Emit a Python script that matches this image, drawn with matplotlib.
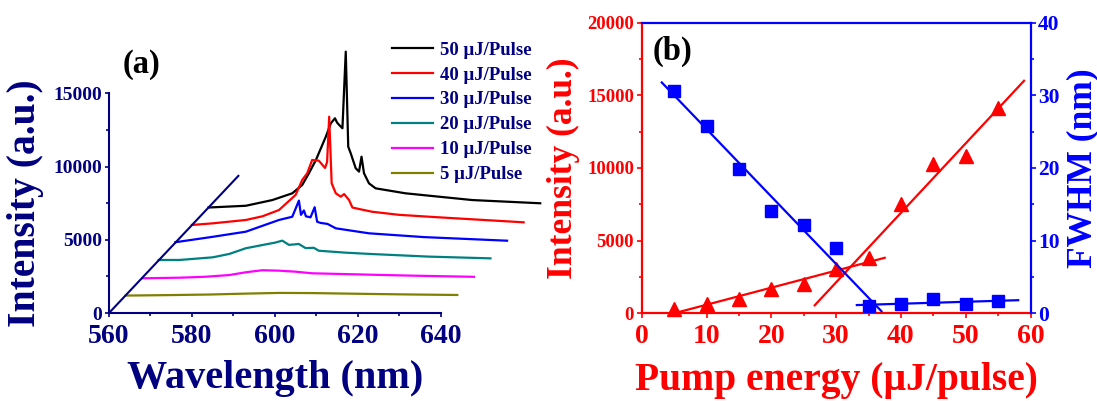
import matplotlib.pyplot as plt
from matplotlib.ticker import MultipleLocator, FixedLocator
import numpy as np

plt.rcParams['font.family'] = ['Liberation Serif', 'DejaVu Serif']
plt.rcParams['font.weight'] = 'bold'
plt.rcParams['axes.labelweight'] = 'bold'

NAVY = '#000080'
W, H = 1097, 401

# ---- (a) emission spectra (raw, before the waterfall offset) ----
wl_50 = [560, 569, 575.4, 580.2, 582.6, 584.2, 585.9, 588.3, 589.5, 590.5, 591.0, 591.5, 592.3,
         593.1, 593.7, 594.3, 595.5, 596.3, 596.9, 597.5, 598.7, 600.3, 607.5, 623.6, 640]
int_50 = [0, 120, 510, 970, 1540, 2330, 3245, 4840, 5750, 6090, 5800, 5640, 5410,
          10640, 4150, 3700, 2680, 2450, 3470, 2340, 1650, 1310, 970, 510, 290]

wl_40 = [560, 565, 573, 577, 581, 585, 586.6, 587.8, 589, 590.6, 591.5, 592.1, 592.6,
         593.1, 593.7, 594.7, 595.9, 596.7, 597.9, 598.7, 600.3, 603.5, 610, 619.6, 640]
int_40 = [10, 120, 350, 600, 1030, 2060, 3080, 3535, 4445, 4400, 4100, 3900, 4300,
          7400, 2855, 2170, 1940, 2120, 1710, 1200, 1100, 910, 700, 530, 190]

wl_30 = [560, 569, 577, 585, 588.2, 589.8, 590.3, 591.0, 591.5, 592.6, 593.6, 594.2,
         595.0, 596.7, 598.7, 606.7, 620, 640]
int_30 = [30, 400, 750, 1550, 1770, 2870, 1900, 2200, 1800, 1730, 2420, 1430,
          1350, 1280, 980, 640, 380, 135]

wl_20 = [560, 565, 573, 577, 581, 585, 588, 589.8, 591.4, 593.8, 595.4, 597.4, 598.6,
         605, 611, 625, 640]
int_20 = [20, 20, 200, 430, 820, 1040, 1200, 1340, 1050, 1110, 830, 850, 650,
          520, 430, 250, 130]

wl_10 = [560, 569, 575, 581, 585, 589, 593, 597, 601, 610, 615, 625, 640]
int_10 = [-30, 10, 70, 190, 380, 520, 490, 420, 310, 250, 215, 150, 70]

wl_5 = [560, 570, 580, 590, 597, 605, 619, 630, 640]
int_5 = [-10, 20, 60, 130, 170, 160, 100, 60, 30]

spec_labels = ['50 μJ/Pulse', '40 μJ/Pulse', '30 μJ/Pulse',
               '20 μJ/Pulse', '10 μJ/Pulse', '5 μJ/Pulse']
spec_colors = ['#000000', '#ff0000', '#0000ff', '#008080', '#ff00ff', '#808000']
spec_wl = [wl_50, wl_40, wl_30, wl_20, wl_10, wl_5]
spec_int = [int_50, int_40, int_30, int_20, int_10, int_5]
spec_level = [6, 5, 4, 3, 2, 1]   # position in the waterfall

# ---- (b) pump dependence ----
energy = [5, 10, 15, 20, 25, 30, 35, 40, 45, 50, 55]
peak_int = [275, 620, 960, 1650, 2000, 3030, 3800, 7520, 10250, 10820, 14100]
fwhm = [30.6, 25.8, 19.8, 14.1, 12.1, 9.0, 1.05, 1.3, 1.9, 1.25, 1.75]


def px_rect(l, t, r, b):
    return [l / W, 1 - b / H, (r - l) / W, (b - t) / H]


fig = plt.figure(figsize=(W / 100, H / 100), dpi=100)

# ================= panel (a) =================
axa = fig.add_axes(px_rect(109, 49.3, 556.8, 313))
axa.set_facecolor('none')
step_x, step_y = 4, 1200

for lab, col, wl, val, k in zip(spec_labels, spec_colors, spec_wl, spec_int, spec_level):
    axa.plot(np.array(wl) + step_x * k, np.array(val) + step_y * k,
             color=col, lw=1.6, label=lab, clip_on=False)

# oblique offset axis
axa.plot([560, 560 + step_x * 7.8], [0, step_y * 7.8], color=NAVY, lw=1.5, clip_on=False)

axa.set_xlim(560, 668)
axa.set_ylim(0, 18000)
axa.spines['top'].set_visible(False)
axa.spines['right'].set_visible(False)
for s in ['left', 'bottom']:
    axa.spines[s].set_color(NAVY)
    axa.spines[s].set_linewidth(1.5)
axa.spines['bottom'].set_bounds(560, 640)
axa.spines['left'].set_bounds(0, 15000)
axa.set_xticks([560, 580, 600, 620, 640])
axa.xaxis.set_minor_locator(FixedLocator([570, 590, 610, 630]))
axa.set_yticks([0, 5000, 10000, 15000])
axa.yaxis.set_minor_locator(FixedLocator([2500, 7500, 12500]))
axa.tick_params(axis='both', which='both', direction='out', colors=NAVY, width=1.2)
axa.tick_params(axis='both', which='major', length=3)
axa.tick_params(axis='both', which='minor', length=2.5)
axa.tick_params(axis='x', which='major', labelsize=20, pad=5)
axa.tick_params(axis='y', which='major', labelsize=14, pad=2)

axa.set_xlabel('Wavelength (nm)', fontsize=29, color=NAVY)
axa.xaxis.set_label_coords(40 / 108, -0.178)
axa.set_ylabel('Intensity (a.u.)', fontsize=28.5, color=NAVY)
axa.yaxis.set_label_coords(-0.145, 7500 / 18000)

axa.legend(loc='upper left', bbox_to_anchor=(391.7 / W, 1 - 41.5 / H),
           bbox_transform=fig.transFigure, frameon=False, borderpad=0,
           borderaxespad=0, handlelength=2.2, handletextpad=0.35,
           labelspacing=0.415, fontsize=13.5, labelcolor=NAVY)

fig.text(123 / W, 1 - 49 / H, '(a)', fontsize=23.5, ha='left', va='top')

# ================= panel (b) =================
RED, BLUE = '#ff0000', '#0000ff'
axb = fig.add_axes(px_rect(641.7, 22.5, 1030.5, 313.3))
axc = axb.twinx()

axb.plot(energy, peak_int, '^', color=RED, ms=10, clip_on=False, zorder=3)
lo = np.polyfit(energy[:7], peak_int[:7], 1)
hi = np.polyfit(energy[6:], peak_int[6:], 1)
xs = np.array([5.0, 37.5])
axb.plot(xs, np.polyval(lo, xs), color=RED, lw=1.6)
xs = np.array([26.7, 59.0])
axb.plot(xs, np.polyval(hi, xs), color=RED, lw=1.6)

axc.plot(energy, fwhm, 's', color=BLUE, ms=8, clip_on=False, zorder=3)
f1 = np.polyfit(energy[:7], fwhm[:7], 1)
f2 = np.polyfit(energy[6:], fwhm[6:], 1)
xs = np.array([3.1, 37.0])
axc.plot(xs, np.polyval(f1, xs), color=BLUE, lw=1.6)
xs = np.array([33.2, 58.1])
axc.plot(xs, np.polyval(f2, xs), color=BLUE, lw=1.6)

axb.set_xlim(0, 60)
axb.set_ylim(0, 20000)
axc.set_ylim(0, 40)

axb.spines['left'].set_color(RED)
axb.spines['bottom'].set_color(RED)
axb.spines['top'].set_color(BLUE)
axb.spines['right'].set_visible(False)
axc.spines['left'].set_visible(False)
axc.spines['bottom'].set_visible(False)
axc.spines['top'].set_visible(False)
axc.spines['right'].set_color(BLUE)
for a in (axb, axc):
    for s in a.spines.values():
        s.set_linewidth(1.6)

axb.xaxis.set_major_locator(MultipleLocator(10))
axb.xaxis.set_minor_locator(MultipleLocator(5))
axb.yaxis.set_major_locator(MultipleLocator(5000))
axb.yaxis.set_minor_locator(MultipleLocator(2500))
axc.yaxis.set_major_locator(MultipleLocator(10))
axc.yaxis.set_minor_locator(MultipleLocator(5))

axb.tick_params(axis='both', which='both', direction='out', colors=RED, width=1.2)
axb.tick_params(which='major', length=3.5)
axb.tick_params(which='minor', length=2.5)
axb.tick_params(axis='x', which='major', labelsize=20, pad=4.5)
axb.tick_params(axis='y', which='major', labelsize=13.5, pad=2)
axc.tick_params(axis='y', which='both', direction='out', colors=BLUE, width=1.2)
axc.tick_params(axis='y', which='major', length=3.5, labelsize=15.5, pad=2)
axc.tick_params(axis='y', which='minor', length=2.5)

axb.set_xlabel('Pump energy (μJ/pulse)', fontsize=28.5, color=RED)
axb.xaxis.set_label_coords(0.5, -0.166)
axb.set_ylabel('Intensity (a.u.)', fontsize=25.5, color=RED)
axb.yaxis.set_label_coords(-0.159, 0.5)
axc.set_ylabel('FWHM (nm)', fontsize=25.5, color=BLUE)
axc.yaxis.set_label_coords(1.091, 0.5)

fig.text(653 / W, 1 - 36 / H, '(b)', fontsize=23.5, ha='left', va='top')

fig.savefig('out.png', dpi=100)
